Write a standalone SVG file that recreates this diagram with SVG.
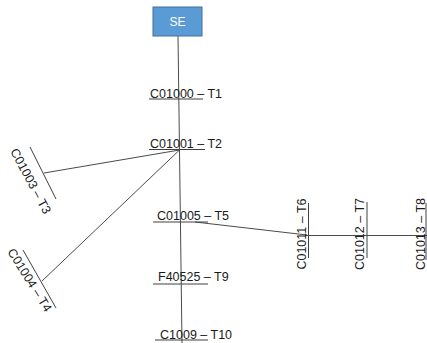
<svg xmlns="http://www.w3.org/2000/svg" width="427" height="343" viewBox="0 0 427 343">
  <style>
    .lbl { font-family: "Liberation Sans", Arial, sans-serif; font-size: 12.5px; fill: #1a1a1a; }
    .ul { stroke: #404040; stroke-width: 1; fill: none; }
    .wire { stroke: #4a4a4a; stroke-width: 1; fill: none; }
    .box { fill: #5b9bd5; stroke: #41719c; stroke-width: 1; }
    .boxtxt { font-family: "Liberation Sans", Arial, sans-serif; font-size: 12px; fill: #ffffff; text-anchor: middle; }
  </style>
  <rect width="427" height="343" fill="#ffffff"/>

  <!-- connectors -->
  <g id="connectors">
    <line class="wire" x1="178" y1="36" x2="182" y2="343"/>
    <line class="wire" x1="179.5" y1="150" x2="44" y2="173"/>
    <line class="wire" x1="179.5" y1="150" x2="42" y2="281"/>
    <line class="wire" x1="195" y1="222" x2="307" y2="235"/>
    <line class="wire" x1="305" y1="235.5" x2="427" y2="235.5"/>
  </g>

  <g id="SE">
    <rect class="box" x="153" y="7" width="49" height="29"/>
    <text class="boxtxt" x="177.5" y="26">SE</text>
  </g>

  <g id="T1">
    <text class="lbl" x="150" y="97.5">C01000 – T1</text>
    <line class="ul" x1="149" y1="99" x2="203" y2="99"/>
  </g>

  <g id="T2">
    <text class="lbl" x="150" y="147.5">C01001 – T2</text>
    <line class="ul" x1="149" y1="149.5" x2="205" y2="149.5"/>
  </g>

  <g id="T3">
    <text class="lbl" text-anchor="middle" transform="translate(31 181) rotate(62)" x="0" y="4.5">C01003 – T3</text>
    <line class="ul" x1="30" y1="147" x2="56" y2="199"/>
  </g>

  <g id="T4">
    <text class="lbl" text-anchor="middle" transform="translate(30 280) rotate(58)" x="0" y="4.5">C01004 – T4</text>
    <line class="ul" x1="23" y1="250" x2="56" y2="308"/>
  </g>

  <g id="T5">
    <text class="lbl" x="157" y="219.5">C01005 – T5</text>
    <line class="ul" x1="153" y1="222" x2="208" y2="222"/>
  </g>

  <g id="T6">
    <text class="lbl" text-anchor="middle" transform="translate(301 234) rotate(-90)" x="0" y="4.5">C01011 – T6</text>
    <line class="ul" x1="308.5" y1="203" x2="308.5" y2="258"/>
  </g>

  <g id="T7">
    <text class="lbl" text-anchor="middle" transform="translate(359 234) rotate(-90)" x="0" y="4.5">C01012 – T7</text>
    <line class="ul" x1="367" y1="202" x2="367" y2="258"/>
  </g>

  <g id="T8">
    <text class="lbl" text-anchor="middle" transform="translate(420 234) rotate(-90)" x="0" y="4.5">C01013 – T8</text>
    <line class="ul" x1="426" y1="203" x2="426" y2="260"/>
  </g>

  <g id="T9">
    <text class="lbl" x="158" y="280.5">F40525 – T9</text>
    <line class="ul" x1="153" y1="284" x2="208" y2="284"/>
  </g>

  <g id="T10">
    <text class="lbl" x="160" y="338.5">C1009 – T10</text>
    <line class="ul" x1="155" y1="340" x2="208" y2="340"/>
  </g>
</svg>
